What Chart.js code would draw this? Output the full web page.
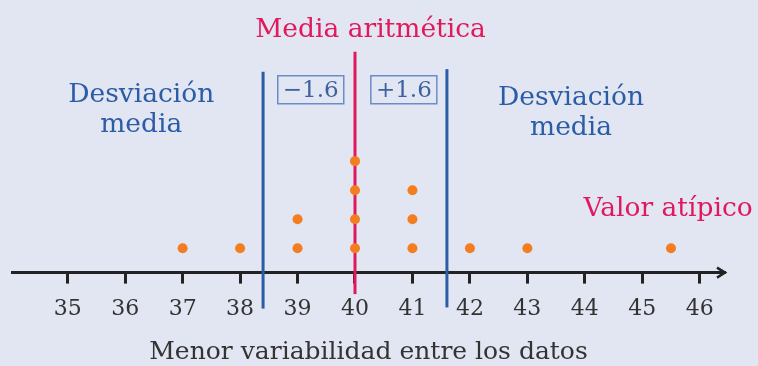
<!DOCTYPE html>
<html>
<head>
<meta charset="utf-8">
<script src="https://cdn.jsdelivr.net/npm/chart.js@4.4.1/dist/chart.umd.min.js"></script>
<style>
  body { margin: 0; background: #e2e6f2; }
  canvas { display: block; }
</style>
</head>
<body>
<canvas id="dotChart" width="758" height="366"></canvas>
<script>
// datos del diagrama de puntos
var tickValues = [35, 36, 37, 38, 39, 40, 41, 42, 43, 44, 45, 46];
var dotX = [37, 38, 39, 39, 40, 40, 40, 40, 41, 41, 41, 42, 43, 45.5];
var dotY = [1, 1, 1, 2, 1, 2, 3, 4, 1, 2, 3, 1, 1, 1];
var media = 40;
var desviacion = 1.6;
var axisTitle = "Menor variabilidad entre los datos";

var FONT = "'DejaVu Serif', serif";
var BLUE = "#2b5ca6";
var RED = "#e2185c";
var ORANGE = "#f47d1f";

var dots = dotX.map(function (x, i) { return { x: x, y: dotY[i] }; });

function vline(x, y0, y1, color) {
  return {
    data: [{ x: x, y: y0 }, { x: x, y: y1 }],
    showLine: true,
    borderColor: color,
    borderWidth: 3,
    pointRadius: 0,
    clip: false,
  };
}

var annotations = {
  id: "annotations",
  afterDraw: function (chart) {
    var c = chart.ctx;
    var xs = chart.scales.x, ys = chart.scales.y;
    var px = function (v) { return xs.getPixelForValue(v); };
    var py = function (v) { return ys.getPixelForValue(v); };
    c.save();
    c.textAlign = "center";
    c.textBaseline = "middle";

    c.font = "26.5px " + FONT;
    c.fillStyle = RED;
    c.fillText("Media aritmética", px(40.27), py(8.5));
    c.fillText("Valor atípico", px(45.45), py(2.36));

    c.fillStyle = BLUE;
    c.fillText("Desviación", px(36.28), py(6.27));
    c.fillText("media", px(36.28), py(5.24));
    c.fillText("Desviación", px(43.76), py(6.17));
    c.fillText("media", px(43.76), py(5.14));

    // cajas con la desviacion
    c.font = "23px " + FONT;
    var boxes = [["\u22121.6", 39.23], ["+1.6", 40.85]];
    boxes.forEach(function (b) {
      var cx = px(b[1]), cy = py(6.46);
      c.strokeStyle = "#6b8cc6";
      c.lineWidth = 1.5;
      c.strokeRect(cx - 33, cy - 14, 66, 28);
      c.fillStyle = "#3d62a0";
      c.fillText(b[0], cx, cy + 1);
    });

    // flecha del eje
    var ax = chart.chartArea.right, ay = chart.chartArea.bottom;
    c.strokeStyle = "#222";
    c.lineWidth = 2.5;
    c.beginPath();
    c.moveTo(ax - 8, ay - 5);
    c.lineTo(ax, ay);
    c.lineTo(ax - 8, ay + 5);
    c.stroke();
    c.restore();
  },
};

var ctx = document.getElementById("dotChart").getContext("2d");
var dotChart = new Chart(ctx, {
  type: "scatter",
  data: {
    datasets: [
      {
        data: dots,
        backgroundColor: ORANGE,
        borderWidth: 0,
        pointRadius: 5,
        clip: false,
      },
      vline(media - desviacion, -1.08, 7.08, BLUE),
      vline(media + desviacion, -1.04, 7.17, BLUE),
      vline(media, -0.58, 7.77, RED),
    ],
  },
  options: {
    responsive: false,
    animation: false,
    events: [],
    layout: { padding: { left: 12, right: 33, top: 0, bottom: 0 } },
    plugins: {
      legend: { display: false },
      tooltip: { enabled: false },
    },
    scales: {
      x: {
        type: "linear",
        min: 34.03,
        max: 46.44,
        afterBuildTicks: function (scale) {
          scale.ticks = tickValues.map(function (v) { return { value: v }; });
        },
        border: { display: true, color: "#222", width: 3 },
        grid: {
          display: true,
          drawOnChartArea: false,
          drawTicks: true,
          tickLength: 11,
          tickWidth: 3,
          tickColor: "#222",
        },
        ticks: {
          color: "#333",
          padding: 12.5,
          maxRotation: 0,
          autoSkip: false,
          font: { family: FONT, size: 22 },
        },
        title: {
          display: true,
          text: axisTitle,
          color: "#333",
          padding: { top: 3.5, bottom: 0 },
          font: { family: FONT, size: 25, lineHeight: 1.1 },
        },
      },
      y: {
        display: false,
        min: 0.16,
        max: 9.38,
      },
    },
  },
  plugins: [annotations],
});
</script>
</body>
</html>
